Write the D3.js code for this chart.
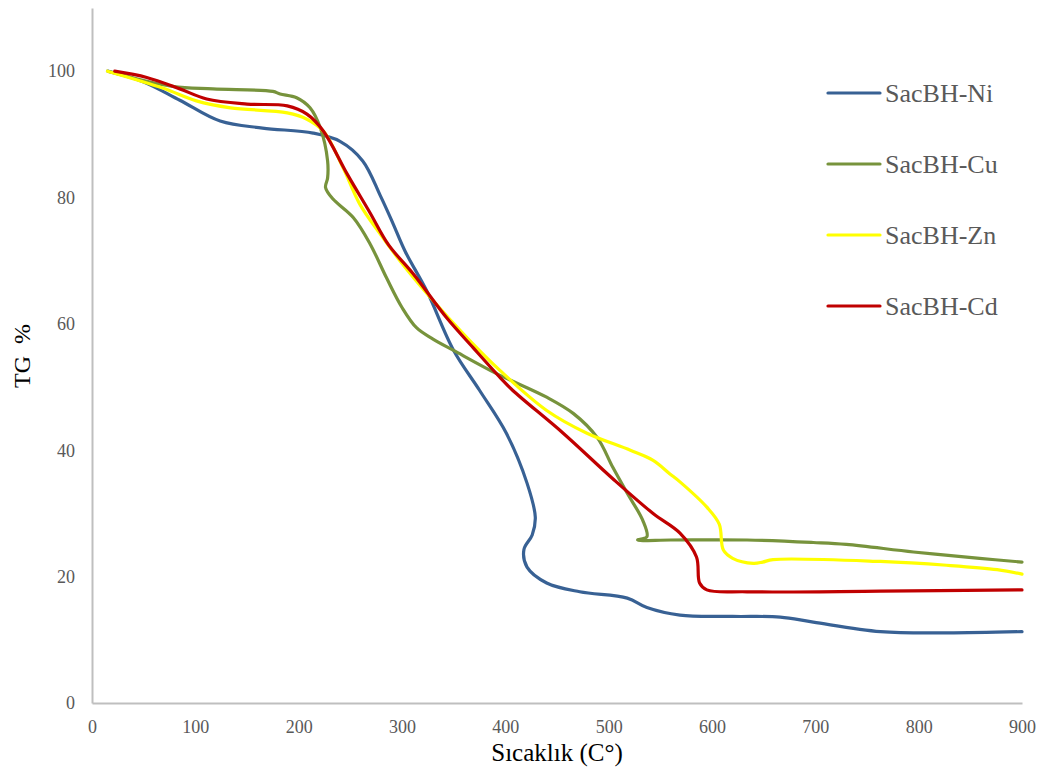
<!DOCTYPE html>
<html>
<head>
<meta charset="utf-8">
<script src="https://cdn.jsdelivr.net/npm/d3@7"></script>
<style>
  body { margin: 0; background: #fff; }
  svg { display: block; }
</style>
</head>
<body>
<script>
// TG curves, [temperature, TG %] in drawing order
const seriesNames = ["SacBH-Ni", "SacBH-Cu", "SacBH-Zn", "SacBH-Cd"];
const seriesColors = ["#386194", "#77933c", "#ffff00", "#c00000"];

const ni = [[16, 100], [50, 98.3], [85, 95.4], [124, 92.1], [165, 91], [214, 90.2], [240, 88.9],
  [262, 85.8], [279, 80.3], [291, 76], [303, 71.5], [324, 65.2], [350, 55.8], [375, 49.5], [401, 42.7],
  [421, 34.8], [429, 29.4], [426, 26.6], [418, 24.3], [421, 21.5], [440, 19], [472, 17.6],
  [518, 16.6], [537, 15.1], [569, 13.9], [620, 13.7], [666, 13.6], [698, 12.8], [763, 11.3],
  [827, 11.1], [900, 11.3]];

const cu = [[15, 100], [78, 97.6], [117, 97.2], [175, 96.8], [182, 96.4], [198, 95.8], [211, 94.2],
  [221, 91], [228, 85.8], [228, 83.1], [226, 81.6], [233, 79.8], [253, 76.8], [269, 72.7],
  [285, 67.3], [300, 62.6], [314, 59.4], [330, 57.6], [350, 55.8], [392, 52.1], [440, 48.4], [466, 45.8],
  [489, 42], [504, 37.3], [518, 33.2], [533, 28.9], [537, 26.3], [528, 25.8], [560, 25.8],
  [634, 25.8], [698, 25.4], [730, 25.1], [795, 23.9], [859, 22.9], [900, 22.3]];

const zn = [[15, 100], [69, 97.3], [101, 95.3], [134, 94.2], [189, 93.4], [208, 92.4], [224, 90.5],
  [243, 84.7], [259, 79], [279, 74.2], [298, 70], [330, 63.7], [363, 57.8], [395, 52.6],
  [440, 46.3], [479, 42.7], [521, 40], [543, 38.4], [559, 36.3], [569, 35], [595, 31],
  [607, 28.3], [611, 24.2], [620, 22.9], [640, 22.1], [649, 22.3], [659, 22.7], [763, 22.4],
  [827, 21.8], [876, 21.1], [900, 20.4]];

const cd = [[22, 100], [53, 99], [85, 97.2], [111, 95.6], [150, 94.8], [189, 94.5], [208, 93.2],
  [224, 90.5], [247, 83.7], [269, 77.6], [287, 72.5], [311, 67.9], [343, 61], [369, 56.2],
  [395, 51.5], [407, 49.5], [456, 42.7], [504, 35.5], [543, 30], [569, 26.9], [585, 23.1],
  [588, 19], [595, 17.9], [634, 17.6], [763, 17.7], [900, 17.9]];

const seriesData = [ni, cu, zn, cd];
const xTicks = [0, 100, 200, 300, 400, 500, 600, 700, 800, 900];
const yTicks = [0, 20, 40, 60, 80, 100];

const width = 1044, height = 774;
const margin = { left: 92, right: 22, top: 8, bottom: 71 };
const serif = "'Liberation Serif', 'Times New Roman', serif";

const svg = d3.select("body").append("svg")
  .attr("width", width)
  .attr("height", height);

const x = d3.scaleLinear().domain([0, 900]).range([margin.left, width - margin.right]);
const y = d3.scaleLinear().domain([0, 110]).range([height - margin.bottom, margin.top]);

// axes
const xAxis = svg.append("g")
  .attr("transform", `translate(0,${y(0)})`)
  .call(d3.axisBottom(x).tickValues(xTicks).tickSize(0).tickPadding(17));
const yAxis = svg.append("g")
  .attr("transform", `translate(${x(0)},0)`)
  .call(d3.axisLeft(y).tickValues(yTicks).tickSize(0).tickPadding(17));

[xAxis, yAxis].forEach(g => {
  g.select(".domain").attr("stroke", "#bfbfbf").attr("stroke-width", 2);
  g.selectAll("text")
    .attr("font-family", serif)
    .attr("font-size", 18)
    .attr("fill", "#595959");
});

// curves
const line = d3.line()
  .x(d => x(d[0]))
  .y(d => y(d[1]))
  .curve(d3.curveCatmullRom.alpha(0.5));

svg.append("g").selectAll("path")
  .data(seriesData)
  .join("path")
  .attr("d", line)
  .attr("fill", "none")
  .attr("stroke", (d, i) => seriesColors[i])
  .attr("stroke-width", 3.2)
  .attr("stroke-linejoin", "round")
  .attr("stroke-linecap", "round");

// axis titles
svg.append("text")
  .attr("x", 557).attr("y", 761)
  .attr("text-anchor", "middle")
  .attr("font-family", serif)
  .attr("font-size", 25)
  .attr("fill", "#000")
  .text("Sıcaklık (C°)");

svg.append("text")
  .attr("transform", "translate(30,356) rotate(-90)")
  .attr("text-anchor", "middle")
  .attr("font-family", serif)
  .attr("font-size", 24)
  .attr("fill", "#000")
  .attr("xml:space", "preserve")
  .text("TG  %");

// legend
const legend = svg.append("g").selectAll("g")
  .data(seriesNames)
  .join("g")
  .attr("transform", (d, i) => `translate(828,${93 + i * 71})`);

legend.append("line")
  .attr("x1", 0).attr("x2", 52)
  .attr("stroke", (d, i) => seriesColors[i])
  .attr("stroke-width", 3.2)
  .attr("stroke-linecap", "round");

legend.append("text")
  .attr("x", 57).attr("y", 9)
  .attr("font-family", serif)
  .attr("font-size", 26)
  .attr("fill", "#595959")
  .text(d => d);
</script>
</body>
</html>
